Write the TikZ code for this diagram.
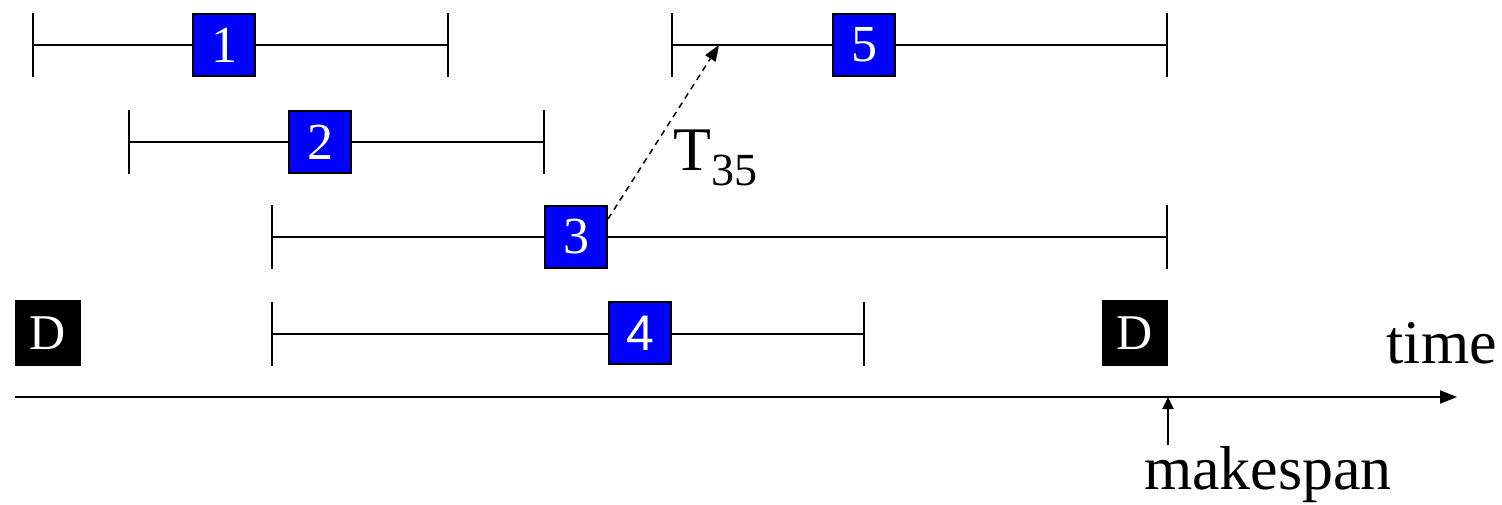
\documentclass[tikz,border=0pt]{standalone}
\usepackage{fontspec}
\setmainfont{Liberation Serif}
\newfontfamily\sansnum{Liberation Sans}
\usetikzlibrary{arrows.meta,calc}
\tikzset{
  line/.style={line width=2pt},
  task/.style={draw=black, line width=2pt, fill=blue, text=white, minimum size=62pt, inner sep=0pt, font=\fontsize{52}{56}\selectfont},
  dbox/.style={fill=black, text=white, minimum size=66pt, inner sep=0pt, font=\fontsize{50}{54}\selectfont},
  big/.style={font=\fontsize{62}{68}\selectfont, inner sep=0pt},
}
\newcommand{\interval}[2]{\draw[line] (#1) -- (#2); \draw[line] (#1) ++(0,-32) -- ++(0,64); \draw[line] (#2) ++(0,-32) -- ++(0,64);}
\begin{document}
\begin{tikzpicture}[x=1pt,y=-1pt]
\useasboundingbox (0,0) rectangle (1502,504);
% intervals
\coordinate (s1) at (33,45);   \coordinate (e1) at (448,45);
\coordinate (s2) at (129,142); \coordinate (e2) at (544,142);
\coordinate (s3) at (272,237); \coordinate (e3) at (1167,237);
\coordinate (s4) at (272,334); \coordinate (e4) at (864,334);
\coordinate (s5) at (672,45);  \coordinate (e5) at (1167,45);
\interval{s1}{e1}
\interval{s2}{e2}
\interval{s3}{e3}
\interval{s4}{e4}
\interval{s5}{e5}
% task boxes
\node[task] (b1) at (224,45) {1};
\node[task] (b2) at (320,142) {2};
\node[task] (b3) at (576,237) {3};
\node[task, font=\fontsize{50}{54}\sansnum] (b4) at (640,333) {4};
\node[task] (b5) at (864,45) {5};
% D boxes
\node[dbox] (d1) at (48,333) {D};
\node[dbox] (d2) at (1135,333) {D};
% transfer arrow
\coordinate (p5) at (719,45);
\draw[line width=1.5pt, dash pattern=on 6pt off 5pt, -{Triangle[length=16pt,width=12pt]}]
  ($(b3.north east)+(0,14)$) -- (p5);
\node[big, anchor=base west] (t35) at (673,170) {T\raisebox{-15pt}{\fontsize{46}{50}\selectfont 35}};
% time axis
\coordinate (a0) at (15,397);
\coordinate (a1) at (1457,397);
\draw[line, -{Triangle[length=17pt,width=13pt]}] (a0) -- (a1);
\node[big, anchor=base east] (time) at (1497,363) {time};
% makespan
\node[big, anchor=base] (ms) at (1268,489) {makespan};
\coordinate (mk) at (1168,445);
\draw[line, -{Triangle[length=12pt,width=11pt]}] (mk) -- (mk |- a0);
\end{tikzpicture}
\end{document}
